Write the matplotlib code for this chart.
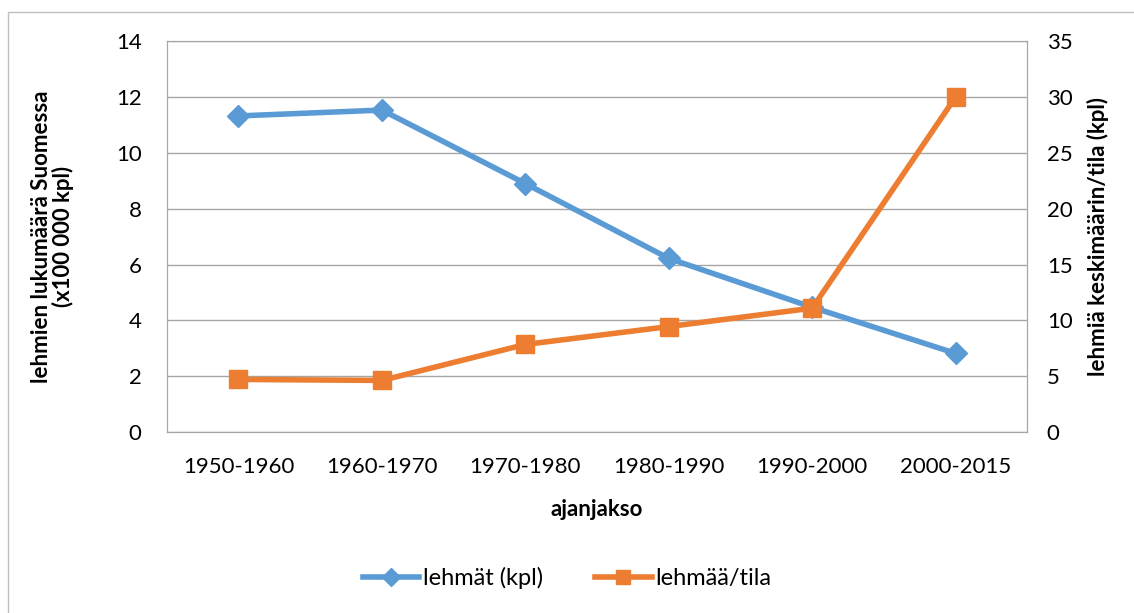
import matplotlib
matplotlib.use("Agg")
import matplotlib.pyplot as plt
from matplotlib.patches import Rectangle

plt.rcParams['font.family'] = ['Lato', 'DejaVu Sans']

# data
periods = ["1950-1960", "1960-1970", "1970-1980", "1980-1990", "1990-2000", "2000-2015"]
lehmat = [11.32, 11.53, 8.9, 6.22, 4.47, 2.82]
lehmaa_tila = [4.72, 4.63, 7.85, 9.45, 11.1, 30.0]

blue = "#5b9bd5"
orange = "#ed7d31"
grid_c = "#a6a6a6"

fig = plt.figure(figsize=(11.34, 6.13), dpi=100)
ax = fig.add_axes([0.147, 0.295, 0.759, 0.638])
ax2 = ax.twinx()

x = list(range(len(periods)))
l1, = ax.plot(x, lehmat, color=blue, lw=4, marker="D", ms=11, label="lehmät (kpl)")
l2, = ax2.plot(x, lehmaa_tila, color=orange, lw=4, marker="s", ms=13, label="lehmää/tila")

ax.set_xlim(-0.5, 5.5)
ax.set_ylim(0, 14)
ax.set_yticks(range(0, 15, 2))
ax2.set_ylim(0, 35)
ax2.set_yticks(range(0, 36, 5))
ax.set_xticks(x)
ax.set_xticklabels(periods)
ax.yaxis.grid(True, color=grid_c, lw=1)
ax.set_axisbelow(True)

for a in (ax, ax2):
    for s in a.spines.values():
        s.set_color(grid_c)
    a.tick_params(length=0, labelsize=16, colors="black")
ax.tick_params(axis="y", pad=18)
ax2.tick_params(axis="y", pad=14)
ax.tick_params(axis="x", pad=18)

ax.set_xlabel("ajanjakso", fontsize=16, fontweight="bold", labelpad=16)
ax.set_ylabel("lehmien lukumäärä Suomessa\n(x100 000 kpl)", fontsize=16,
              fontweight="bold", labelpad=30, linespacing=1.0)
ax2.set_ylabel("lehmiä keskimäärin/tila (kpl)", fontsize=16, fontweight="bold", labelpad=10)

fig.legend(handles=[l1, l2], loc="center", bbox_to_anchor=(0.5, 0.057), ncol=2,
           frameon=False, fontsize=17, handlelength=2.4, columnspacing=2.2,
           handletextpad=0.15, markerscale=0.8)

fig.patches.append(Rectangle((0.007, -0.01), 1.2, 0.99, transform=fig.transFigure,
                             fill=False, edgecolor="#bfbfbf", lw=1))

fig.savefig("out.png", dpi=100)
